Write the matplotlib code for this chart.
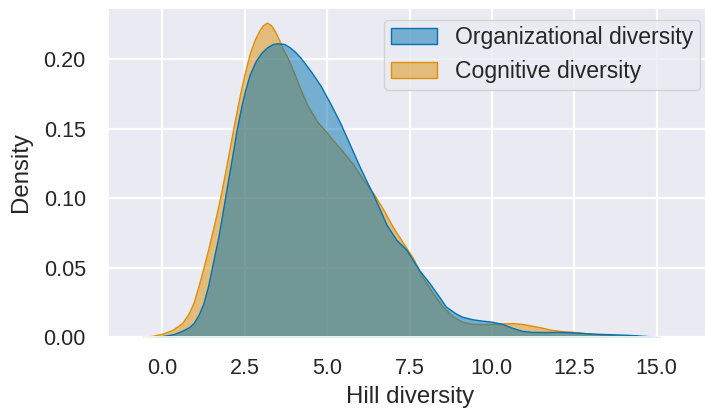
import matplotlib
matplotlib.use("Agg")
import matplotlib.pyplot as plt
import seaborn as sns
from matplotlib.patches import Patch
from matplotlib.colors import to_rgba

# Organizational diversity density curve
org_x = [-0.2, 0.0, 0.33, 0.6, 0.8, 0.94, 1.1, 1.24, 1.38, 1.5, 1.6, 1.7, 1.8, 1.9,
         2.0, 2.1, 2.26, 2.4, 2.51, 2.65, 2.84, 3.0, 3.17, 3.35, 3.5, 3.7, 3.87, 4.02,
         4.18, 4.5, 4.8, 5.1, 5.4, 5.7, 6.0, 6.2, 6.4, 6.8, 7.1, 7.4, 7.8,
         8.1, 8.4, 8.6, 8.9, 9.1, 9.4, 9.7, 10.0, 10.3, 10.6, 10.9, 11.2, 11.6, 12.0,
         12.4, 12.8, 13.2, 13.6, 14.0, 14.4, 14.8, 15.1]
org_y = [0.0, 0.0007, 0.002, 0.0045, 0.007, 0.0098, 0.016, 0.024, 0.036, 0.0495, 0.061,
         0.0722, 0.086, 0.100, 0.114, 0.1275, 0.150, 0.1665, 0.1775, 0.189, 0.199, 0.2045,
         0.2085, 0.211, 0.2115, 0.211, 0.2085, 0.2055, 0.2015, 0.1915, 0.181, 0.168, 0.154,
         0.138, 0.122, 0.112, 0.1025, 0.081, 0.070, 0.063, 0.048, 0.039, 0.029, 0.022,
         0.017, 0.0146, 0.0128, 0.0118, 0.011, 0.0095, 0.0068, 0.0045, 0.0037, 0.0036,
         0.0037, 0.0034, 0.0028, 0.0023, 0.002, 0.0017, 0.0012, 0.0005, 0.0]

# Cognitive diversity density curve
cog_x = [-0.6, -0.3, 0.0, 0.3, 0.6, 0.8, 0.95, 1.1, 1.25, 1.4, 1.5, 1.65, 1.75, 1.9,
         2.05, 2.2, 2.35, 2.5, 2.65, 2.8, 2.95, 3.05, 3.17, 3.3, 3.42, 3.52, 3.65, 3.82,
         4.0, 4.18, 4.4, 4.7, 5.0, 5.2, 5.5, 5.8, 6.1, 6.4, 6.7, 7.0, 7.3,
         7.6, 7.9, 8.2, 8.5, 8.8, 9.1, 9.4, 9.7, 10.0, 10.3, 10.6, 10.9, 11.2, 11.5,
         11.8, 12.1, 12.4, 12.7, 13.0, 13.3, 13.6, 13.9, 14.2, 14.5]
cog_y = [0.0, 0.0008, 0.0024, 0.005, 0.010, 0.017, 0.025, 0.037, 0.050, 0.064, 0.074,
         0.089, 0.100, 0.118, 0.137, 0.156, 0.174, 0.190, 0.204, 0.214, 0.221, 0.2245,
         0.2264, 0.2245, 0.220, 0.215, 0.208, 0.200, 0.190, 0.179, 0.167, 0.155, 0.147,
         0.141, 0.133, 0.124, 0.113, 0.1035, 0.092, 0.079, 0.068, 0.057, 0.043, 0.032,
         0.022, 0.015, 0.011, 0.0095, 0.0093, 0.0094, 0.0098, 0.0100, 0.0095, 0.0082,
         0.0068, 0.0052, 0.0043, 0.0038, 0.0031, 0.0024, 0.0018, 0.0013, 0.0008,
         0.0004, 0.0]

labels = ["Organizational diversity", "Cognitive diversity"]
colors = ["#0173B2", "#DE8F05"]
xticks = [0.0, 2.5, 5.0, 7.5, 10.0, 12.5, 15.0]
yticks = [0.00, 0.05, 0.10, 0.15, 0.20]

sns.set_theme(style="darkgrid")
plt.rcParams["font.family"] = ["Liberation Sans", "DejaVu Sans"]
plt.rcParams["text.color"] = ".15"
plt.rcParams["axes.labelcolor"] = ".15"
plt.rcParams["xtick.color"] = ".15"
plt.rcParams["ytick.color"] = ".15"

fig = plt.figure(figsize=(7.05, 4.11), dpi=100)
W, H = 705, 411
ax = fig.add_axes([108 / W, (H - 337) / H, (712 - 108) / W, (337 - 8) / H])

# draw cognitive first so organizational is on top (seaborn hue order)
series = [(cog_x, cog_y, colors[1]), (org_x, org_y, colors[0])]
for xs, ys, c in series:
    ax.fill_between(xs, ys, 0, facecolor=to_rgba(c, 0.5), edgecolor=c, linewidth=1.0)

ax.set_xlim(-1.65, 16.68)
ax.set_ylim(0, 0.2369)
ax.set_xticks(xticks)
ax.set_xticklabels([f"{t:.1f}" for t in xticks])
ax.set_yticks(yticks)
ax.set_yticklabels([f"{t:.2f}" for t in yticks])
ax.tick_params(axis="both", labelsize=15.5, length=0)
ax.tick_params(axis="x", pad=15)
ax.tick_params(axis="y", pad=16)
ax.set_xlabel("Hill diversity", fontsize=17.3, labelpad=5)
ax.set_ylabel("Density", fontsize=17.3, labelpad=8)
ax.grid(True, color="white", linewidth=1.6)

handles = [Patch(facecolor=to_rgba(colors[0], 0.5), edgecolor=colors[0], linewidth=1.0),
           Patch(facecolor=to_rgba(colors[1], 0.5), edgecolor=colors[1], linewidth=1.0)]
ax.legend(handles, labels, loc="upper right", fontsize=16.6, frameon=True,
          borderpad=0.3, labelspacing=0.45)

fig.savefig("out.png", dpi=100)
